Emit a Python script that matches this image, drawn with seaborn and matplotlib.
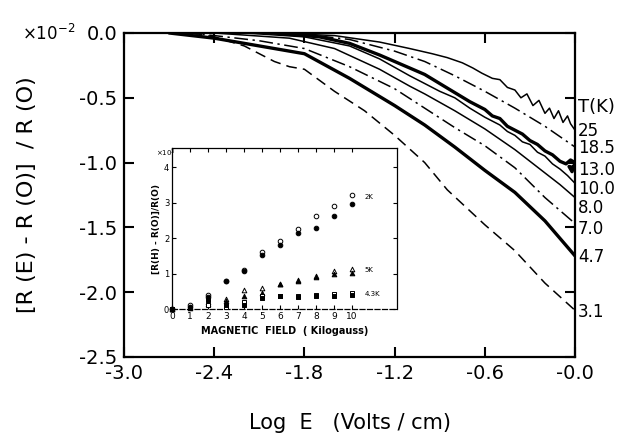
import pandas as pd
import matplotlib.pyplot as plt
import seaborn as sns

# main panel: [R(E)-R(0)]/R(0) (x 10^-2) vs log E, one curve per temperature
x_25 = [-2.0, -1.6, -1.3, -1.1, -0.95, -0.85, -0.75, -0.68, -0.62, -0.55, -0.5, -0.45, -0.4, -0.36,
        -0.32, -0.28, -0.24, -0.2, -0.17, -0.14, -0.11, -0.08, -0.05, -0.03, 0.0]
y_25 = [0.0, -0.02, -0.07, -0.12, -0.16, -0.19, -0.23, -0.27, -0.31, -0.35, -0.36, -0.42, -0.44, -0.50,
        -0.47, -0.56, -0.52, -0.62, -0.58, -0.66, -0.60, -0.69, -0.64, -0.70, -0.75]

x_185 = [-2.2, -1.8, -1.5, -1.2, -1.0, -0.8, -0.6, -0.4, -0.2, 0.0]
y_185 = [0.0, -0.01, -0.05, -0.14, -0.22, -0.33, -0.45, -0.58, -0.72, -0.88]

x_13 = [-2.0, -1.7, -1.5, -1.3, -1.1, -1.0, -0.9, -0.8, -0.7, -0.6, -0.55, -0.5, -0.45, -0.4,
        -0.35, -0.3, -0.25, -0.2, -0.15, -0.1, -0.06, -0.03, 0.0, -0.02, -0.04, 0.0]
y_13 = [0.0, -0.03, -0.08, -0.17, -0.27, -0.32, -0.39, -0.46, -0.53, -0.59, -0.64, -0.66, -0.72, -0.75,
        -0.78, -0.83, -0.86, -0.91, -0.94, -0.99, -1.01, -0.98, -1.0, -1.07, -1.03, -1.04]

x_10 = [-2.2, -1.8, -1.5, -1.3, -1.1, -1.0, -0.9, -0.8, -0.7, -0.6, -0.5, -0.45, -0.4, -0.35,
        -0.3, -0.25, -0.2, -0.15, -0.1, -0.05, 0.0]
y_10 = [0.0, -0.03, -0.10, -0.20, -0.33, -0.39, -0.45, -0.50, -0.58, -0.65, -0.71, -0.76, -0.79, -0.84,
        -0.86, -0.92, -0.95, -1.01, -1.05, -1.10, -1.16]

x_8 = [-2.4, -1.9, -1.6, -1.3, -1.1, -1.0, -0.8, -0.6, -0.4, -0.2, -0.1, 0.0]
y_8 = [0.0, -0.04, -0.12, -0.28, -0.41, -0.47, -0.60, -0.74, -0.90, -1.08, -1.17, -1.27]

x_7 = [-2.6, -2.4, -2.1, -1.8, -1.5, -1.2, -1.0, -0.8, -0.6, -0.4, -0.2, 0.0]
y_7 = [0.0, -0.02, -0.06, -0.12, -0.26, -0.43, -0.58, -0.73, -0.87, -1.04, -1.27, -1.47]

x_47 = [-2.7, -2.4, -2.1, -1.8, -1.5, -1.2, -1.0, -0.8, -0.6, -0.4, -0.2, 0.0]
y_47 = [0.0, -0.04, -0.10, -0.16, -0.35, -0.56, -0.71, -0.88, -1.06, -1.23, -1.45, -1.72]

x_31 = [-2.55, -2.4, -2.2, -2.0, -1.9, -1.8, -1.6, -1.4, -1.2, -1.0, -0.85, -0.6, -0.4, -0.2, 0.0]
y_31 = [0.0, -0.03, -0.10, -0.22, -0.26, -0.28, -0.45, -0.60, -0.79, -1.00, -1.21, -1.48, -1.68, -1.93, -2.14]

temps = ['25', '18.5', '13.0', '10.0', '8.0', '7.0', '4.7', '3.1']
label_y = [-0.76, -0.89, -1.055, -1.2, -1.35, -1.51, -1.73, -2.15]

# inset: magnetoresistance x 10^-3 vs field (kilogauss)
field = [0, 1, 2, 3, 4, 5, 6, 7, 8, 9, 10]
mr_2k_open = [0.0, 0.1, 0.4, 0.8, 1.1, 1.6, 1.92, 2.25, 2.62, 2.92, 3.22]
mr_2k_fill = [0.0, 0.05, 0.35, 0.78, 1.07, 1.52, 1.8, 2.15, 2.3, 2.62, 2.97]
mr_5k_open = [0.0, 0.05, 0.2, 0.28, 0.55, 0.6, 0.72, 0.82, 0.92, 1.07, 1.12]
mr_5k_fill = [0.0, 0.03, 0.15, 0.22, 0.38, 0.45, 0.7, 0.8, 0.9, 0.98, 1.02]
mr_43k_open = [0.0, 0.02, 0.1, 0.05, 0.2, 0.38, 0.38, 0.36, 0.4, 0.42, 0.46]
mr_43k_fill = [0.0, 0.02, 0.25, 0.1, 0.1, 0.3, 0.37, 0.35, 0.38, 0.38, 0.41]

sns.set_style("ticks")
plt.rcParams['font.family'] = ['DejaVu Sans']
plt.rcParams.update({'text.color': 'black', 'axes.labelcolor': 'black',
                     'xtick.color': 'black', 'ytick.color': 'black',
                     'axes.edgecolor': 'black',
                     'xtick.direction': 'in', 'ytick.direction': 'in'})

fig = plt.figure(figsize=(6.34, 4.41), dpi=100)
ax = fig.add_axes([0.1956, 0.1905, 0.7114, 0.7347])

thin, thick = 1.1, 2.4
dashdot = (0, (9, 3, 1.5, 3))
dashed = (0, (7, 4))
curves = [(x_25, y_25, thin, '-'), (x_185, y_185, thin, dashdot), (x_13, y_13, thick, '-'),
          (x_10, y_10, thin, '-'), (x_8, y_8, thin, '-'), (x_7, y_7, thin, dashdot),
          (x_47, y_47, thick, '-'), (x_31, y_31, thin, dashed)]
for xs, ys, lw, ls in curves:
    sns.lineplot(x=xs, y=ys, ax=ax, color='black', linewidth=lw, linestyle=ls,
                 sort=False, estimator=None)

ax.set_xlim(-3.0, 0.0)
ax.set_ylim(-2.5, 0.0)
xt = [-3.0, -2.4, -1.8, -1.2, -0.6, 0.0]
ax.set_xticks(xt)
ax.set_xticklabels(['-3.0', '-2.4', '-1.8', '-1.2', '-0.6', '-0.0'], fontsize=14)
yt = [0.0, -0.5, -1.0, -1.5, -2.0, -2.5]
ax.set_yticks(yt)
ax.set_yticklabels(['0.0', '-0.5', '-1.0', '-1.5', '-2.0', '-2.5'], fontsize=14)
ax.tick_params(which='both', top=True, right=True, length=7, width=1.5, pad=5)
for s in ax.spines.values():
    s.set_linewidth(1.6)
ax.set_xlabel('Log  E   (Volts / cm)', fontsize=15, labelpad=22)
ax.set_ylabel('[R (E) - R (O)]  / R (O)', fontsize=16, labelpad=30)

ax.text(0.02, -0.57, 'T(K)', fontsize=13, va='center', ha='left', clip_on=False)
for t, yy in zip(temps, label_y):
    ax.text(0.02, yy, t, fontsize=12, va='center', ha='left', clip_on=False)
fig.text(0.035, 0.922, '×10$^{-2}$', fontsize=12, va='center', ha='left')

# inset
ai = fig.add_axes([0.2713, 0.2993, 0.3549, 0.3651])
sets = [(mr_2k_open, 'o', 'white'), (mr_2k_fill, 'o', 'black'),
        (mr_5k_open, '^', 'white'), (mr_5k_fill, '^', 'black'),
        (mr_43k_open, 's', 'white'), (mr_43k_fill, 's', 'black')]
for vals, mk, fc in sets:
    sns.scatterplot(x=field, y=vals, ax=ai, marker=mk, s=11, color=fc,
                    edgecolor='black', linewidth=0.7, zorder=3, clip_on=False)
ai.set_xlim(0, 12.5)
ai.set_ylim(0, 4.55)
ai.set_xticks(range(0, 11))
ai.set_xticklabels([str(i) for i in range(0, 11)], fontsize=6.5)
ai.set_yticks(range(0, 5))
ai.set_yticklabels([str(i) for i in range(0, 5)], fontsize=6)
ai.tick_params(which='both', top=True, right=True, length=3, width=0.8, pad=2)
for s in ai.spines.values():
    s.set_linewidth(0.9)
ai.spines['bottom'].set_linestyle((0, (4, 2)))
ai.set_xlabel('MAGNETIC  FIELD  ( Kilogauss)', fontsize=7, fontweight='bold', labelpad=4)
ai.set_ylabel('[R(H) - R(O)]/R(O)', fontsize=6.5, fontweight='bold', labelpad=2)
ai.text(10.7, 3.1, '2K', fontsize=5)
ai.text(10.7, 1.05, '5K', fontsize=5)
ai.text(10.7, 0.37, '4.3K', fontsize=5)
fig.text(0.246, 0.653, '×10$^3$', fontsize=5, va='center', ha='left')

fig.savefig('out.png', dpi=100)
